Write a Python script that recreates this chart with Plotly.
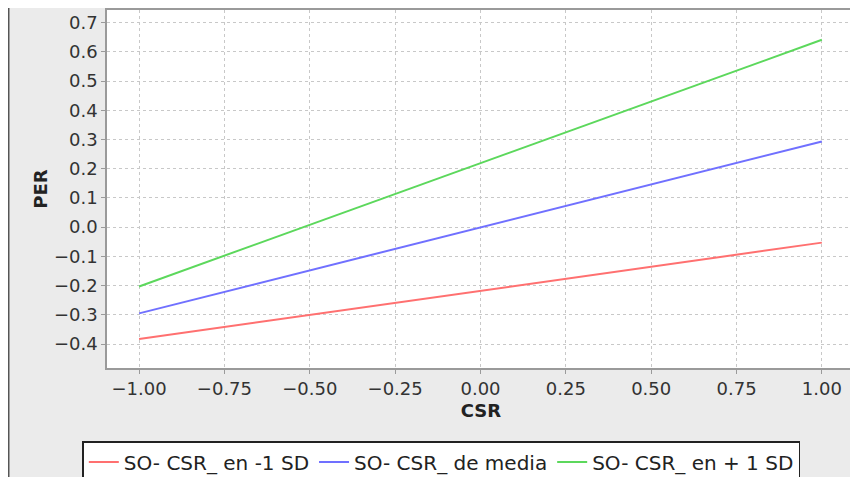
import plotly.graph_objects as go

csr = [-1.0, 1.0]
per_low = [-0.383, -0.053]
per_mean = [-0.295, 0.293]
per_high = [-0.203, 0.641]
names = ["SO- CSR_ en -1 SD", "SO- CSR_ de media", "SO- CSR_ en + 1 SD"]
colors = ["#ff7070", "#7070ff", "#5cd85c"]
x_ticks = [-1.0, -0.75, -0.5, -0.25, 0.0, 0.25, 0.5, 0.75, 1.0]
y_ticks = [-0.4, -0.3, -0.2, -0.1, 0.0, 0.1, 0.2, 0.3, 0.4, 0.5, 0.6, 0.7]

FONT = "DejaVu Sans"
fig = go.Figure()
for ys, n, c in zip([per_low, per_mean, per_high], names, colors):
    fig.add_trace(go.Scatter(x=csr, y=ys, mode="lines", name=n,
                             line=dict(color=c, width=2)))

axis_common = dict(showgrid=True, gridcolor="#c8c8c8", griddash="3px,3px", gridwidth=1,
                   zeroline=False, showline=True, linecolor="#9a9a9a", linewidth=1.5,
                   mirror=True, ticks="outside", ticklen=4, tickcolor="#9a9a9a",
                   automargin=False,
                   tickfont=dict(family=FONT, size=18, color="#333333"))

fig.update_xaxes(range=[-1.094, 1.097], tickvals=x_ticks,
                 ticktext=[f"{v:.2f}".replace("-", "\u2212") for v in x_ticks],
                 title=dict(text="CSR", font=dict(family=FONT, size=18, color="#222222", weight="bold"), standoff=6),
                 **axis_common)
fig.update_yaxes(range=[-0.482, 0.743], tickvals=y_ticks,
                 ticktext=[f"{v:.1f}".replace("-", "\u2212") if abs(v) > 1e-9 else "0.0" for v in y_ticks],
                 title=dict(text="PER", font=dict(family=FONT, size=18, color="#222222", weight="bold"), standoff=2),
                 **axis_common)

# page body adds 8px offset: figure spans x 8..858, y 8..477
fig.add_shape(type="line", xref="paper", yref="paper", x0=-0.1317, x1=-0.1317, y0=1.02, y1=-0.31,
              line=dict(color="#555555", width=2))

fig.update_layout(
    width=850, height=469,
    margin=dict(l=99, r=3, t=2, b=109, autoexpand=False),
    paper_bgcolor="#ebebeb", plot_bgcolor="white",
    showlegend=True,
    legend=dict(orientation="h", x=-0.033, xanchor="left", y=-0.204, yanchor="top",
                bgcolor="white", bordercolor="#222222", borderwidth=1.5,
                font=dict(family=FONT, size=20, color="#222222"),
                itemwidth=30, tracegroupgap=0),
    font=dict(family=FONT),
)
fig.write_html("out.html")
